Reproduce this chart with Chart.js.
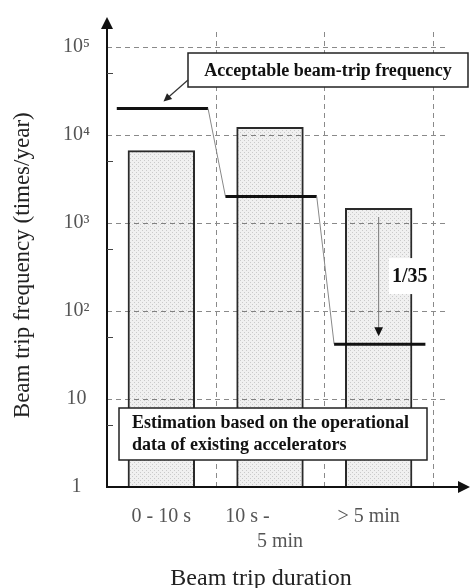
<!DOCTYPE html>
<html>
<head>
<meta charset="utf-8">
<script src="https://cdn.jsdelivr.net/npm/chart.js@4.4.1/dist/chart.umd.min.js"></script>
<style>
  html, body { margin: 0; padding: 0; background: #fff; }
</style>
</head>
<body>
<canvas id="tripChart" width="471" height="588"></canvas>
<script>
// beam trip duration classes (padding spaces nudge the lines off-centre)
const durations = [['0 - 10 s'], ['10 s -         ', '    5 min'], ['> 5 min    ']];
// estimated from operational data of existing accelerators (times/year)
const estimatedTrips = [6700, 12300, 1480];
// acceptable beam-trip frequency (times/year)
const acceptableTrips = [20000, 2000, 42];
const yTicks = [1, 10, 100, 1000, 10000, 100000];
const yTickLabels = ['1', '10', '10²', '10³', '10⁴', '10⁵'];
const yMinorTicks = [5, 50, 500, 5000, 50000];

const serif = "'Liberation Serif', 'Times New Roman', serif";

// light stippled fill for the bars
function stipple() {
  const c = document.createElement('canvas');
  c.width = 4; c.height = 4;
  const g = c.getContext('2d');
  g.fillStyle = 'rgba(0,0,0,0.06)';
  g.fillRect(0, 0, 4, 4);
  g.fillStyle = 'rgba(0,0,0,0.16)';
  g.fillRect(0, 0, 1, 1);
  g.fillRect(2, 2, 1, 1);
  return g.createPattern(c, 'repeat');
}

// step line: one flat run per duration class
const stepPoints = [];
acceptableTrips.forEach((v, i) => {
  stepPoints.push({ x: i + 0.09, y: v });
  stepPoints.push({ x: i + 0.93, y: v });
});

function arrow(ctx, x1, y1, x2, y2, size) {
  const ang = Math.atan2(y2 - y1, x2 - x1);
  ctx.beginPath();
  ctx.moveTo(x1, y1);
  ctx.lineTo(x2 - Math.cos(ang) * size * 0.8, y2 - Math.sin(ang) * size * 0.8);
  ctx.stroke();
  ctx.beginPath();
  ctx.moveTo(x2, y2);
  ctx.lineTo(x2 - size * Math.cos(ang - 0.45), y2 - size * Math.sin(ang - 0.45));
  ctx.lineTo(x2 - size * Math.cos(ang + 0.45), y2 - size * Math.sin(ang + 0.45));
  ctx.closePath();
  ctx.fill();
}

function textBox(ctx, x, y, w, h) {
  ctx.fillStyle = '#fff';
  ctx.fillRect(x, y, w, h);
  ctx.strokeStyle = '#222';
  ctx.lineWidth = 1.5;
  ctx.strokeRect(x, y, w, h);
}

const gridLines = {
  id: 'gridLines',
  beforeDatasetsDraw(chart) {
    const { ctx, chartArea: a, scales: { y, x2 } } = chart;
    ctx.save();
    ctx.strokeStyle = '#8a8a8a';
    ctx.lineWidth = 1;
    ctx.setLineDash([5, 4]);
    yTicks.slice(1).forEach(v => {
      const py = Math.round(y.getPixelForValue(v)) + 0.5;
      ctx.beginPath();
      ctx.moveTo(a.left, py);
      ctx.lineTo(a.right + 14, py);
      ctx.stroke();
    });
    [1, 2, 3].forEach(v => {
      const px = Math.round(x2.getPixelForValue(v)) + 0.5;
      ctx.beginPath();
      ctx.moveTo(px, a.top);
      ctx.lineTo(px, a.bottom);
      ctx.stroke();
    });
    ctx.restore();
  }
};

const decorations = {
  id: 'decorations',
  afterDatasetsDraw(chart) {
    const { ctx, chartArea: a, scales: { y, x2 } } = chart;
    ctx.save();

    // axes with arrow heads
    ctx.strokeStyle = '#111';
    ctx.fillStyle = '#111';
    ctx.lineWidth = 2;
    ctx.beginPath();
    ctx.moveTo(a.left, a.bottom);
    ctx.lineTo(a.left, a.top - 4);
    ctx.moveTo(a.left - 1, a.bottom);
    ctx.lineTo(a.right + 26, a.bottom);
    ctx.stroke();
    ctx.beginPath();
    ctx.moveTo(a.left, a.top - 15);
    ctx.lineTo(a.left - 6, a.top - 3);
    ctx.lineTo(a.left + 6, a.top - 3);
    ctx.closePath();
    ctx.fill();
    ctx.beginPath();
    ctx.moveTo(a.right + 37, a.bottom);
    ctx.lineTo(a.right + 25, a.bottom - 6);
    ctx.lineTo(a.right + 25, a.bottom + 6);
    ctx.closePath();
    ctx.fill();

    // minor ticks inside the y axis
    ctx.lineWidth = 1;
    ctx.strokeStyle = '#444';
    yMinorTicks.forEach(v => {
      const py = Math.round(y.getPixelForValue(v)) + 0.5;
      ctx.beginPath();
      ctx.moveTo(a.left, py);
      ctx.lineTo(a.left + 6, py);
      ctx.stroke();
    });

    // "Acceptable beam-trip frequency" callout
    const bx = a.left + 81, by = a.top + 21;
    textBox(ctx, bx, by, 280, 34);
    ctx.fillStyle = '#111';
    ctx.font = 'bold 18px ' + serif;
    ctx.textAlign = 'center';
    ctx.textBaseline = 'middle';
    ctx.fillText('Acceptable beam-trip frequency', bx + 140, by + 18);
    ctx.strokeStyle = '#333';
    ctx.fillStyle = '#222';
    ctx.lineWidth = 1.2;
    arrow(ctx, bx, by + 27, x2.getPixelForValue(0.52), y.getPixelForValue(acceptableTrips[0]) - 7, 9);

    // reduction arrow for the longest trips
    const top3 = y.getPixelForValue(estimatedTrips[2]);
    const lvl3 = y.getPixelForValue(acceptableTrips[2]);
    const ax = x2.getPixelForValue(2.5);
    ctx.strokeStyle = '#777';
    ctx.fillStyle = '#111';
    ctx.lineWidth = 1;
    arrow(ctx, ax, top3 + 9, ax, lvl3 - 8, 10);
    const ratio = '1/' + Math.round(estimatedTrips[2] / acceptableTrips[2]);
    ctx.font = 'bold 20px ' + serif;
    const rw = ctx.measureText(ratio).width;
    const rx = ax + 31, ry = (top3 + lvl3) / 2;
    ctx.fillStyle = '#fff';
    ctx.fillRect(rx - rw / 2 - 3, ry - 18, rw + 6, 36);
    ctx.fillStyle = '#111';
    ctx.textAlign = 'center';
    ctx.fillText(ratio, rx, ry + 1);

    // data source note
    const nx = a.left + 12, ny = a.bottom - 79;
    textBox(ctx, nx, ny, 308, 52);
    ctx.fillStyle = '#111';
    ctx.font = 'bold 18px ' + serif;
    ctx.textAlign = 'left';
    ctx.fillText('Estimation based on the operational', nx + 13, ny + 15);
    ctx.fillText('data of existing accelerators', nx + 13, ny + 37);

    ctx.restore();
  }
};

const ctx = document.getElementById('tripChart').getContext('2d');
new Chart(ctx, {
  type: 'bar',
  data: {
    labels: durations,
    datasets: [{
      label: 'Estimation',
      data: estimatedTrips,
      xAxisID: 'x',
      backgroundColor: stipple(),
      borderColor: '#2a2a2a',
      borderWidth: 2,
      borderSkipped: 'bottom',
      grouped: false,
      categoryPercentage: 1,
      barPercentage: 0.62,
      order: 2
    }, {
      type: 'line',
      label: 'Acceptable',
      data: stepPoints,
      xAxisID: 'x2',
      pointRadius: 0,
      fill: false,
      borderColor: '#111',
      borderWidth: 3,
      segment: {
        borderWidth: c => c.p0.parsed.y === c.p1.parsed.y ? 3 : 1,
        borderColor: c => c.p0.parsed.y === c.p1.parsed.y ? '#111' : '#888'
      },
      order: 1
    }]
  },
  options: {
    responsive: false,
    animation: false,
    layout: { padding: { top: 32, right: 38, left: 0, bottom: 0 } },
    plugins: {
      legend: { display: false },
      tooltip: { enabled: false }
    },
    scales: {
      x: {
        type: 'category',
        offset: true,
        grid: { display: false },
        border: { display: false },
        ticks: {
          color: '#555',
          padding: 9,
          maxRotation: 0,
          autoSkip: false,
          font: { family: serif, size: 20, lineHeight: 1.25 }
        },
        title: {
          display: true,
          text: 'Beam trip duration   ',
          color: '#222',
          padding: { top: 0, bottom: 0 },
          font: { family: serif, size: 24, lineHeight: 0.8 }
        },
        afterFit(s) { s.height = 101; }
      },
      x2: { type: 'linear', display: false, offset: false, min: 0, max: 3 },
      y: {
        type: 'logarithmic',
        min: 1,
        max: 148000,
        grid: { display: false },
        border: { display: false },
        afterBuildTicks(s) { s.ticks = yTicks.map(v => ({ value: v })); },
        ticks: {
          autoSkip: false,
          crossAlign: 'center',
          padding: 9,
          color: '#555',
          font: { family: serif, size: 20 },
          callback: (v, i) => yTickLabels[i]
        },
        title: {
          display: true,
          text: 'Beam trip frequency (times/year)  ',
          color: '#222',
          padding: { top: 11, bottom: 0 },
          font: { family: serif, size: 23, lineHeight: 1 }
        },
        afterFit(s) { s.width = 107; }
      }
    }
  },
  plugins: [gridLines, decorations]
});
</script>
</body>
</html>
